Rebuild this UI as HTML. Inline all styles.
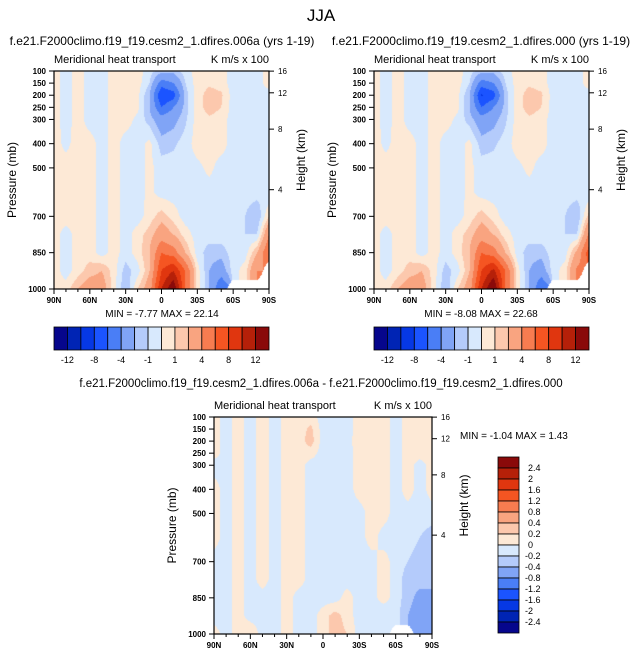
<!DOCTYPE html>
<html><head><meta charset="utf-8">
<style>
body{margin:0;background:#fff;width:643px;height:658px;overflow:hidden;font-family:"Liberation Sans",sans-serif;}
#root{position:relative;width:643px;height:658px;}
svg{position:absolute;left:0;top:0;}
canvas{position:absolute;}
</style></head>
<body><div id="root">
<canvas id="c1"></canvas>
<canvas id="c2"></canvas>
<canvas id="c3"></canvas>
<svg id="s" width="643" height="658"></svg>
</div>
<script>
const lats=[90,80,70,60,50,40,30,20,10,0,-10,-20,-30,-40,-50,-60,-70,-80,-90];
const pres=[100,150,200,250,300,400,500,600,700,775,850,925,1000];
const N=null;
const field1=[
[0.5,-0.5,0.5,-0.5,-0.5,0.5,0.5,0.5,-0.5,-1.5,-1.5,-0.5,0.5,0.5,0.5,-0.5,-0.5,-0.5,0.5],
[0.5,-0.5,0.5,-0.5,-0.5,0.5,0.5,0.5,-1,-5,-4,-1,0.5,0.8,0.5,-0.5,-0.5,-0.5,0.5],
[0.5,-0.5,0.5,-0.5,-0.5,0.5,0.5,0.3,-2,-8,-7,-1.5,0.5,1.5,1.2,-0.5,-0.5,-0.5,-0.5],
[0.5,-0.5,0.5,-0.5,-0.5,0.5,0.5,0.3,-2,-6,-4,-1.5,0.5,1.5,1,-0.5,-0.5,-0.5,-0.5],
[0.5,-0.5,0.5,-0.5,-0.5,0.5,0.5,-0.3,-1.5,-3,-2.5,-1.2,0.5,0.8,0.5,-0.5,-0.5,-0.5,-0.5],
[0.5,-0.3,0.5,0.5,-0.5,0.5,-0.5,-0.5,0.3,-1.5,-1.2,-0.5,0.5,0.5,0.5,-0.5,-0.5,-0.5,-0.5],
[0.5,0.5,0.5,0.5,-0.5,0.5,-0.5,-0.5,0.3,-0.5,-0.5,-0.5,-0.3,0.3,-0.5,-0.5,-0.5,-0.5,-0.5],
[0.5,0.5,0.5,0.5,-0.5,0.5,-0.5,-0.5,0.3,-0.5,-0.5,-0.5,-0.5,-0.5,-0.5,-0.5,-0.5,-0.5,-1],
[0.5,0.5,0.5,0.5,-0.5,0.5,-0.5,-0.5,0.5,1.5,0.5,-0.5,-0.5,-0.5,-0.5,-0.5,-1,-2,1],
[0.5,-0.5,0.5,0.5,-0.5,0.5,-0.5,0.5,1.5,3,2,0.5,-0.5,-0.5,-0.5,-0.5,-1,-1,4],
[0.5,-0.5,0.5,0.5,-0.5,0.5,-0.5,0.5,2,6,5,2,-0.5,-1.5,-1.5,-0.5,-0.5,2,6],
[0.5,-0.5,0.5,1.5,2,0.5,-1.5,-0.5,2,8,10,6,0.5,-2,-3,-0.5,0.5,4,N],
[0.5,0.5,2,3,3,0.5,-2,1,3,10,14,6,0.5,-2,-6,N,N,N,N]];
const field2=[
[0.5,-0.5,0.5,-0.5,-0.5,0.5,0.5,0.5,-0.5,-1.5,-1.5,-0.5,0.5,0.5,0.5,-0.5,-0.5,-0.5,0.5],
[0.5,-0.5,0.5,-0.5,-0.5,0.5,0.5,0.5,-1,-5,-4,-1,0.5,0.8,0.5,-0.5,-0.5,-0.5,0.5],
[0.5,-0.5,0.5,-0.5,-0.5,0.5,0.5,0.3,-2,-8.2,-7,-1.5,0.5,1.5,1.2,-0.5,-0.5,-0.5,-0.5],
[0.5,-0.5,0.5,-0.5,-0.5,0.5,0.5,0.3,-2,-6,-4,-1.5,0.5,1.5,1,-0.5,-0.5,-0.5,-0.5],
[0.5,-0.5,0.5,-0.5,-0.5,0.5,0.5,-0.3,-1.5,-3,-2.5,-1.2,0.5,0.8,0.5,-0.5,-0.5,-0.5,-0.5],
[0.5,-0.3,0.5,0.5,-0.5,0.5,-0.5,-0.5,0.3,-1.5,-1.2,-0.5,0.5,0.5,0.5,-0.5,-0.5,-0.5,-0.5],
[0.5,0.5,0.5,0.5,-0.5,0.5,-0.5,-0.5,0.3,-0.5,-0.5,-0.5,-0.3,0.3,-0.5,-0.5,-0.5,-0.5,-0.5],
[0.5,0.5,0.5,0.5,-0.5,0.5,-0.5,-0.5,0.3,-0.5,-0.5,-0.5,-0.5,-0.5,-0.5,-0.5,-0.5,-0.5,-1],
[0.5,0.5,0.5,0.5,-0.5,0.5,-0.5,-0.5,0.5,1.5,0.5,-0.5,-0.5,-0.5,-0.5,-0.5,-1,-2,1.5],
[0.5,-0.5,0.5,0.5,-0.5,0.5,-0.5,0.5,1.5,3,2,0.5,-0.5,-0.5,-0.5,-0.5,-1,-1,4.5],
[0.5,-0.5,0.5,0.5,-0.5,0.5,-0.5,0.5,2,6,5,2,-0.5,-1.5,-1.5,-0.5,-0.5,2.5,7],
[0.5,-0.5,0.5,1.5,2,0.5,-1.5,-0.5,2,8,10.5,6,0.5,-2,-3,-0.5,0.5,4.5,N],
[0.5,0.5,2,3,3,0.5,-2,1,3,10,14.5,6,0.5,-2,-6,N,N,N,N]];
const field3=[
[0.1,-0.1,0.1,-0.1,0.1,-0.1,0.1,0.1,0.1,-0.1,-0.1,-0.1,0.1,0.1,0.1,-0.1,0.1,0.1,0.1],
[0.1,-0.1,0.1,-0.1,0.1,-0.1,0.1,0.1,0.25,-0.1,-0.1,-0.1,0.1,0.1,0.1,-0.1,0.1,0.1,0.1],
[0.1,-0.1,0.1,-0.1,0.1,-0.1,0.1,0.1,0.3,-0.1,-0.1,-0.1,0.15,0.1,0.1,-0.1,0.1,0.1,0.1],
[0.1,-0.1,0.1,-0.1,0.1,-0.1,0.1,0.1,0.1,-0.1,-0.1,-0.1,0.1,0.1,0.1,-0.1,0.1,0.1,0.1],
[-0.1,-0.1,0.1,-0.1,0.1,-0.1,0.1,0.1,-0.1,-0.1,-0.1,-0.1,0.1,0.1,0.1,-0.1,0.1,-0.1,0.1],
[0.1,-0.1,0.1,-0.1,0.1,-0.1,0.1,0.1,-0.1,-0.1,-0.1,-0.1,0.1,0.1,0.1,-0.1,0.1,-0.1,0.1],
[0.1,-0.1,0.1,-0.1,0.1,-0.1,0.1,0.1,-0.1,-0.1,-0.1,-0.1,-0.1,0.1,0.1,-0.1,-0.1,-0.1,-0.1],
[0.1,-0.1,0.1,-0.1,0.1,-0.1,0.1,0.1,-0.1,-0.1,-0.1,-0.1,-0.1,0.1,-0.1,-0.1,-0.1,-0.2,-0.3],
[-0.1,-0.1,0.1,-0.1,0.1,-0.1,0.1,0.1,-0.1,-0.1,-0.1,-0.1,-0.1,-0.1,0.1,-0.1,-0.2,-0.3,-0.3],
[-0.1,-0.1,0.1,-0.1,0.1,-0.1,0.1,0.1,-0.1,-0.1,-0.1,-0.1,-0.1,-0.1,0.1,-0.1,-0.3,-0.3,-0.4],
[-0.1,-0.1,0.1,-0.1,-0.1,-0.1,0.1,-0.1,-0.1,-0.1,-0.1,0.1,-0.1,-0.1,0.1,-0.1,-0.3,-0.5,-0.4],
[-0.1,-0.1,0.1,-0.1,-0.1,-0.1,0.1,-0.1,-0.1,0.1,0.3,0.1,-0.1,-0.1,-0.2,-0.1,-0.4,-0.6,-0.5],
[0.1,-0.1,0.1,0.2,-0.1,-0.1,0.1,-0.1,-0.1,0.1,0.3,0.2,-0.1,-0.2,-0.2,N,N,-0.5,-0.5]];
const levels1=[-12,-10,-8,-6,-4,-2,-1,0,1,2,4,6,8,10,12];
const levels3=[-2.4,-2,-1.6,-1.2,-0.8,-0.4,-0.2,0,0.2,0.4,0.8,1.2,1.6,2,2.4];
const cbLabels1=["-12","-8","-4","-1","1","4","8","12"];
const cbLabels3=["2.4","2","1.6","1.2","0.8","0.4","0.2","0","-0.2","-0.4","-0.8","-1.2","-1.6","-2","-2.4"];
const colors=["#06068c","#0024b4","#0638e4","#1b54ff","#4a7ef6","#80a4f6","#b4cbfb","#d8e9fd","#fde9d6","#fcc8ad","#f9a480","#f77c50","#f55522","#e0360f","#b52009","#8a0a0a"];
const pTicks=[100,150,200,250,300,400,500,700,850,1000];
const hTicks=[16,12,8,4];
const hPos=[100.5,190,340,590];
const xTicks=["90N","60N","30N","0","30S","60S","90S"];

function col(v,lv){if(v===null)return null;let i=0;while(i<lv.length&&v>=lv[i])i++;return colors[i];}
function hex(c){return [parseInt(c.substr(1,2),16),parseInt(c.substr(3,2),16),parseInt(c.substr(5,2),16)];}
function sample(f,lat,p){
  let fi=(90-lat)/10;let i0=Math.min(17,Math.floor(fi));let tx=fi-i0;
  let j0=0;while(j0<pres.length-2&&p>pres[j0+1])j0++;
  let ty=(p-pres[j0])/(pres[j0+1]-pres[j0]);
  const a=f[j0][i0],b=f[j0][i0+1],c=f[j0+1][i0],d=f[j0+1][i0+1];
  const vals=[[a,(1-tx)*(1-ty)],[b,tx*(1-ty)],[c,(1-tx)*ty],[d,tx*ty]];
  let s=0,w=0,nw=0;for(const [v,ww] of vals){if(v===null)nw+=ww;else{s+=v*ww;w+=ww;}}
  if(nw>0.5)return null;return s/w;
}
function draw(id,f,lv,x0,y0,w,h){
  const cv=document.getElementById(id);cv.width=w;cv.height=h;cv.style.left=x0+'px';cv.style.top=y0+'px';
  const ctx=cv.getContext('2d');const img=ctx.createImageData(w,h);
  for(let y=0;y<h;y++)for(let x=0;x<w;x++){
    const lat=90-180*(x+0.5)/w;const p=100+900*(y+0.5)/h;
    const c=col(sample(f,lat,p),lv);const k=(y*w+x)*4;
    const rgb=c?hex(c):[255,255,255];img.data[k]=rgb[0];img.data[k+1]=rgb[1];img.data[k+2]=rgb[2];img.data[k+3]=255;}
  ctx.putImageData(img,0,0);
}
const S=document.getElementById('s');const NS='http://www.w3.org/2000/svg';
function el(t,a,txt){const e=document.createElementNS(NS,t);for(const k in a)e.setAttribute(k,a[k]);if(txt!==undefined)e.textContent=txt;S.appendChild(e);return e;}
function txt(x,y,s,size,anchor,name,extra){const e=el('text',Object.assign({x:x,y:y,'font-size':size,'text-anchor':anchor||'start',fill:'#000'},extra||{}),s);

return e;}

function axes(x0,y0,w,h,pre){
  const r=el('rect',{x:x0,y:y0,width:w,height:h,fill:'none',stroke:'#000','stroke-width':1.2});
  
  
  const py=p=>y0+(p-100)/900*h;
  pTicks.forEach(p=>{el('line',{x1:x0-5,x2:x0,y1:py(p),y2:py(p),stroke:'#000'});
    txt(x0-8,py(p)+3,String(p),8,'end',pre+'pressure-tick-label',{'font-weight':'bold'});});
  hTicks.forEach((hk,i)=>{const y=py(hPos[i]);el('line',{x1:x0+w,x2:x0+w+5,y1:y,y2:y,stroke:'#000'});
    txt(x0+w+9,y+3,String(hk),8,'start',pre+'height-tick-label');});
  for(let i=0;i<=18;i++){const x=x0+w*i/18;const major=i%3===0;
    el('line',{x1:x,x2:x,y1:y0+h,y2:y0+h+(major?5:3),stroke:'#000'});}
  xTicks.forEach((t,i)=>txt(x0+w*i/6,y0+h+14,t,8,'middle',pre+'latitude-tick-label',{'font-weight':'bold'}));
  txt(x0-38,y0+h/2,'Pressure (mb)',12,'middle',pre+'y-axis-title',{transform:`rotate(-90 ${x0-38} ${y0+h/2})`});
  txt(x0+w+36,y0+h/2-20,'Height (km)',12,'middle',pre+'right-axis-title',{transform:`rotate(-90 ${x0+w+36} ${y0+h/2-20})`});
  txt(x0,y0-8,'Meridional heat transport',11,'start',pre+'subtitle-left');
  txt(x0+w,y0-8,'K m/s x 100',11,'end',pre+'subtitle-right');
}
function hbar(x0,y0,w,h,pre){
  const bw=w/16;
  colors.forEach((c,i)=>{const r=el('rect',{x:x0+i*bw,y:y0,width:bw,height:h,fill:c,stroke:'#000','stroke-width':0.8});
    
    });
  cbLabels1.forEach((t,i)=>txt(x0+bw*(1+2*i),y0+h+13,t,9,'middle',pre+'colorbar-label'));
}

draw('c1',field1,levels1,54,71,215,218);
draw('c2',field2,levels1,374,71,215,218);
draw('c3',field3,levels3,214,417,218,217);

txt(321,21,'JJA',17,'middle','figure-title');
txt(162,45,'f.e21.F2000climo.f19_f19.cesm2_1.dfires.006a (yrs 1-19)',12,'middle','left-panel-title');
txt(481,45,'f.e21.F2000climo.f19_f19.cesm2_1.dfires.000 (yrs 1-19)',12,'middle','right-panel-title');
axes(54,71,215,218,'left-');
axes(374,71,215,218,'right-');
txt(162,317,'MIN =  -7.77  MAX =  22.14',10,'middle','left-min-max');
txt(481,317,'MIN =  -8.08  MAX =  22.68',10,'middle','right-min-max');
hbar(54,327,215,23,'left-');
hbar(374,327,215,23,'right-');
txt(321,387,'f.e21.F2000climo.f19_f19.cesm2_1.dfires.006a - f.e21.F2000climo.f19_f19.cesm2_1.dfires.000',11.5,'middle','difference-panel-title');
axes(214,417,218,217,'diff-');
txt(460,439,'MIN =  -1.04  MAX =   1.43',10,'start','diff-min-max');
(function(){const x0=498,y0=457,w=21,h=176,bh=h/16;
  for(let i=0;i<16;i++){const r=el('rect',{x:x0,y:y0+i*bh,width:w,height:bh,fill:colors[15-i],stroke:'#000','stroke-width':0.8});
    
    }
  cbLabels3.forEach((t,i)=>txt(x0+w+6+(t[0]==='-'?0:3),y0+bh*(i+1)+3,t,9,'start','diff-colorbar-label'));
})();
</script>
</body></html>
